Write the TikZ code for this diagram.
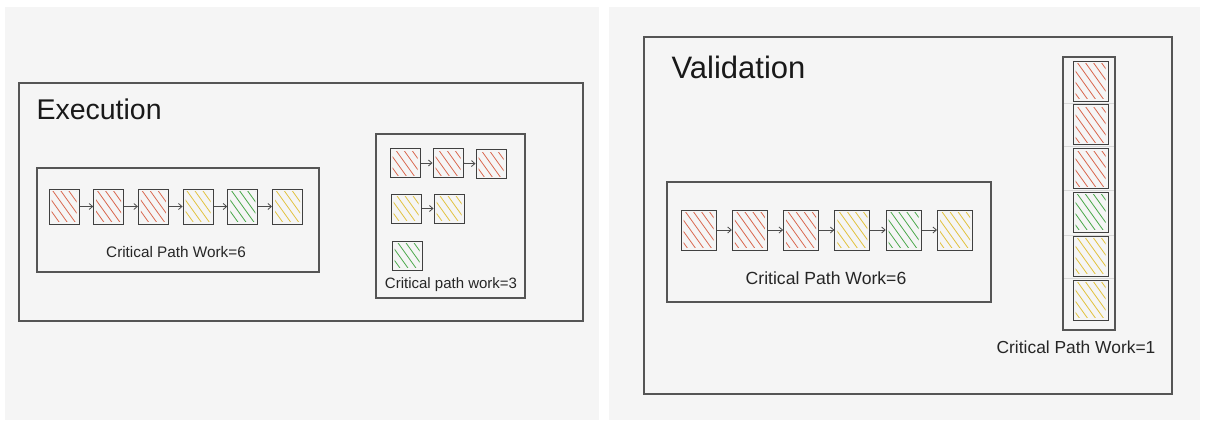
\documentclass[tikz,border=0pt]{standalone}
\usepackage{fontspec}
\setmainfont{Liberation Sans}
\usetikzlibrary{calc, arrows.meta}

\definecolor{panelgray}{HTML}{F5F5F5}
\definecolor{framegray}{HTML}{555555}
\definecolor{hatchred}{HTML}{D9674E}
\definecolor{hatchyellow}{HTML}{E2C23E}
\definecolor{hatchgreen}{HTML}{4AA84A}

\begin{document}
\begin{tikzpicture}[x=1pt, y=-1pt,
        frame/.style={draw=framegray, line width=1.1pt},
        task/.style={draw=black!75, line width=1pt, inner sep=0pt,
            path picture={
                \begin{scope}
                    \clip ($(path picture bounding box.south west)+(2.5pt,2.5pt)$)
                        rectangle ($(path picture bounding box.north east)-(2.5pt,2.5pt)$);
                    \foreach \k in {-4,...,4}
                        \draw[#1, line width=0.8pt, line cap=round]
                            ($(path picture bounding box.center)+(\k*8pt-15pt,21pt)$) -- ++(30pt,-42pt);
                \end{scope}
            }},
        extask/.style={task=#1, minimum width=30pt, minimum height=35pt},
        minitask/.style={task=#1, minimum width=30pt, minimum height=29pt},
        valtask/.style={task=#1, minimum width=35pt, minimum height=40pt},
        link/.style={draw=black!70, line width=0.8pt, -{Straight Barb[length=3.5pt, width=6pt]}},
        sepline/.style={draw=black!15, line width=0.8pt},
        caption/.style={anchor=base, text=black!85}
    ]
    \useasboundingbox (0,0) rectangle (1212,423);
    \fill[panelgray] (5,7) rectangle (599,420);
    \fill[panelgray] (609,7) rectangle (1200,420);

    % execution
    \draw[frame] (19,83) rectangle (583,321);
    \node[anchor=base west, font=\fontsize{28.5}{34}\selectfont, text=black!90] (extitle) at (33,119) {Execution};

    \draw[frame] (37,168) rectangle (319,272);
    \foreach \c [count=\i] in {hatchred,hatchred,hatchred,hatchyellow,hatchgreen,hatchyellow}
        \node[extask=\c] (ex\i) at ({64+44.7*(\i-1)}, 206.5) {};
    \foreach \i [remember=\i as \last (initially 1)] in {2,...,6}
        \draw[link] (ex\last) -- (ex\i);
    \node[caption, font=\fontsize{15.3}{18}\selectfont] (excp) at (176,257) {Critical Path Work=6};

    \draw[frame] (376,134) rectangle (525,298);
    \node[minitask=hatchred] (pa1) at (405,163) {};
    \node[minitask=hatchred] (pa2) at (448,163) {};
    \node[minitask=hatchred] (pa3) at (491,164) {};
    \node[minitask=hatchyellow] (pb1) at (406,208.5) {};
    \node[minitask=hatchyellow] (pb2) at (449,208.5) {};
    \node[minitask=hatchgreen] (pc1) at (407,255.5) {};
    \draw[link] (pa1) -- (pa2);
    \draw[link] (pa2) -- (pa3);
    \draw[link] (pb1) -- (pb2);
    \node[caption, font=\fontsize{15}{18}\selectfont] (parcp) at (451,288) {Critical path work=3};

    % validation
    \draw[frame] (644,37) rectangle (1172,394);
    \node[anchor=base west, font=\fontsize{31}{36}\selectfont, text=black!90] (valtitle) at (668,78) {Validation};

    \draw[frame] (667,182) rectangle (991,302);
    \foreach \c [count=\i] in {hatchred,hatchred,hatchred,hatchyellow,hatchgreen,hatchyellow}
        \node[valtask=\c] (va\i) at ({698.5+51.3*(\i-1)}, 230) {};
    \foreach \i [remember=\i as \last (initially 1)] in {2,...,6}
        \draw[link] (va\last) -- (va\i);
    \node[caption, font=\fontsize{17.6}{21}\selectfont] (valcp) at (826,284) {Critical Path Work=6};

    \draw[frame] (1063,57) rectangle (1115,330);
    \foreach \y in {103,146.5,190.5,235,278}
        \draw[sepline] (1064,\y) -- (1114,\y);
    \foreach \c [count=\i] in {hatchred,hatchred,hatchred,hatchgreen,hatchyellow,hatchyellow}
        \node[valtask=\c] (vc\i) at ({1090.5}, {81+43.8*(\i-1)}) {};
    \node[caption, font=\fontsize{17.4}{21}\selectfont] (colcp) at (1076,353) {Critical Path Work=1};
\end{tikzpicture}
\end{document}
